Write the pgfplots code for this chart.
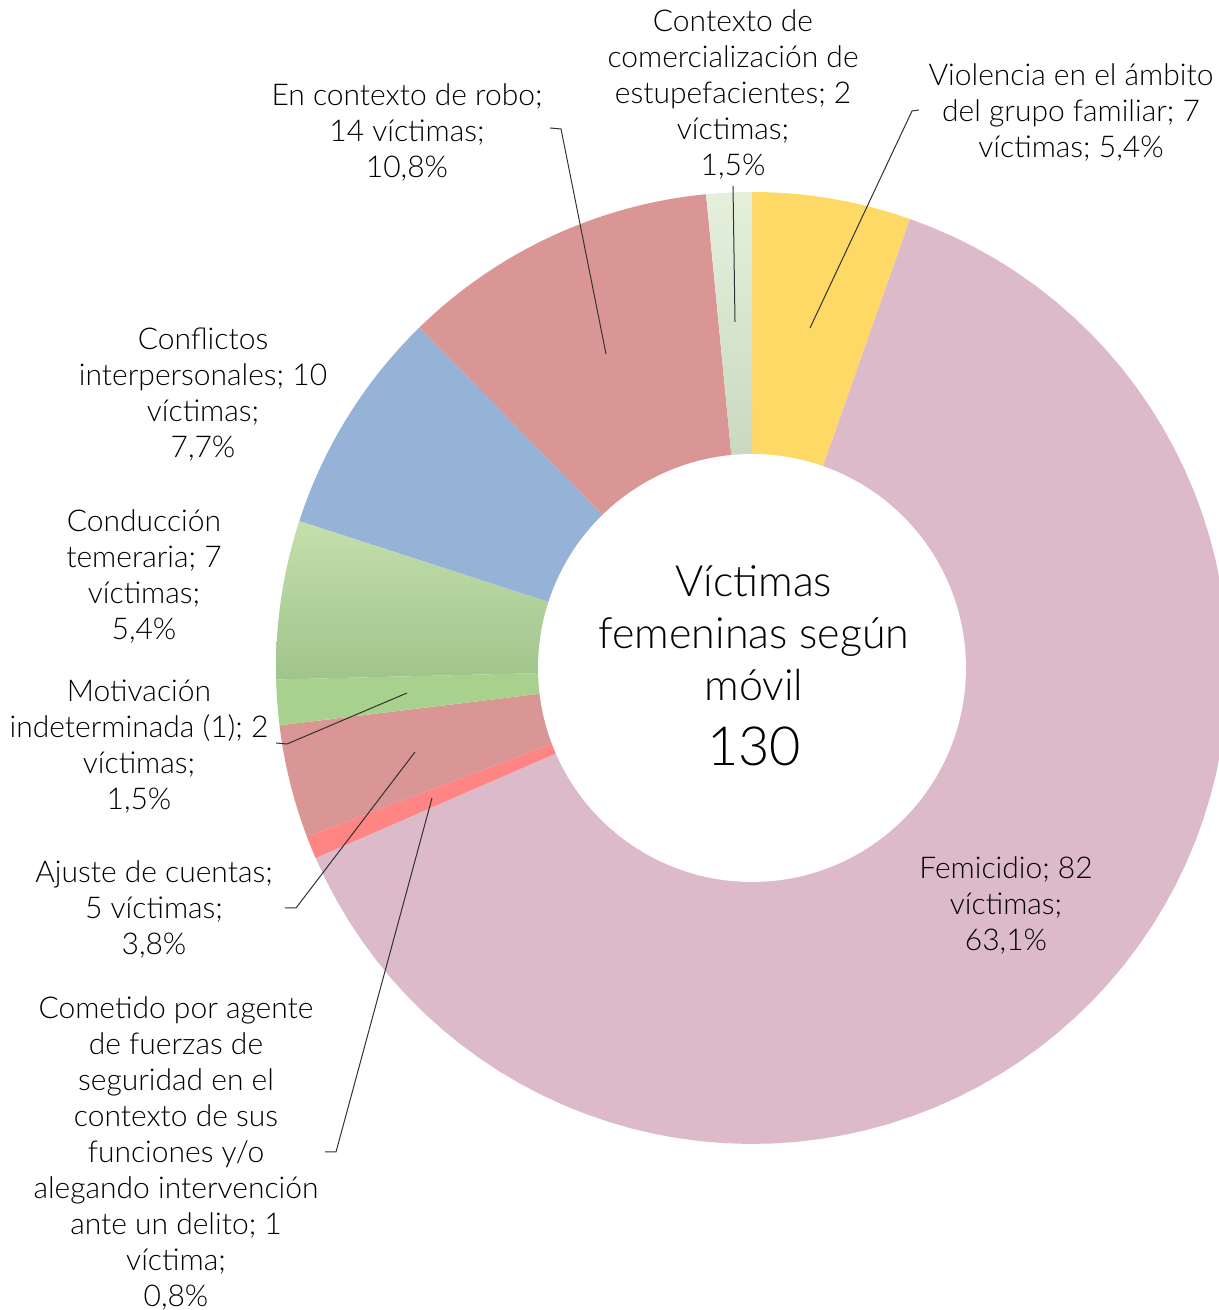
\documentclass[border=0pt]{standalone}
\usepackage{pgfplots}
\pgfplotsset{compat=1.18}
\usepackage{fontspec}
\setmainfont{Lato Light}
\definecolor{cyel}{RGB}{255,217,102}
\definecolor{cpink}{RGB}{220,186,202}
\definecolor{cred}{RGB}{255,133,133}
\definecolor{crose}{RGB}{217,150,148}
\definecolor{cgreen}{RGB}{169,209,142}
\definecolor{cgtop}{RGB}{196,223,172}
\definecolor{cgbot}{RGB}{160,196,140}
\definecolor{cblue}{RGB}{149,179,215}
\definecolor{cltop}{RGB}{228,240,220}
\definecolor{clbot}{RGB}{180,200,170}
\definecolor{cline}{RGB}{50,50,50}
% wedge between cumulative counts #1 and #2 (total 130), clockwise from 12 o'clock
\newcommand{\donutwedge}[3]{%
  \addplot[#3, draw=none, domain={90-360*#2/130}:{90-360*#1/130}, samples=80, variable=\t]
    ({752+476*cos(\t)},{-668+476*sin(\t)}) -- (axis cs:752,-668) -- cycle;}
\newcommand{\lab}{\fontsize{15}{18}\selectfont}
\begin{document}
\begin{tikzpicture}
\begin{axis}[x=0.5pt, y=0.5pt, xmin=0, xmax=1219, ymin=-1310, ymax=0,
  hide axis, scale only axis, clip=true]
% cumulative victim counts: 7, 82, 1, 5, 2, 7, 10, 14, 2
\donutwedge{0}{7}{fill=cyel}
\donutwedge{7}{89}{fill=cpink}
\donutwedge{89}{90}{fill=cred}
\donutwedge{90}{95}{fill=crose}
\donutwedge{95}{97}{fill=cgreen}
\donutwedge{97}{104}{top color=cgtop, bottom color=cgbot}
\donutwedge{104}{114}{fill=cblue}
\donutwedge{114}{128}{fill=crose}
\donutwedge{128}{130}{top color=cltop, bottom color=clbot}
\addplot[fill=white, draw=none, domain=0:360, samples=160]
  ({752+214*cos(x)},{-668+214*sin(x)}) -- cycle;
% leader lines
\addplot[cline, line width=0.5pt] coordinates {(550,-128) (561,-129) (606,-354)};
\addplot[cline, line width=0.5pt] coordinates {(733,-186) (735,-322)};
\addplot[cline, line width=0.5pt] coordinates {(919,-110) (912,-111) (810,-328)};
\addplot[cline, line width=0.5pt] coordinates {(276,-743) (287,-744) (407,-693)};
\addplot[cline, line width=0.5pt] coordinates {(285,-908) (296,-908) (415,-752)};
\addplot[cline, line width=0.5pt] coordinates {(325,-1152) (336,-1152) (432,-798)};
% labels
\node[align=center, inner sep=0pt, font=\lab] at (axis cs:407,-133) {En contexto de robo;\\14 víctimas;\\10,8\%};
\node[align=center, inner sep=0pt, font=\lab] at (axis cs:733,-95) {Contexto de\\comercialización de\\estupefacientes; 2\\víctimas;\\1,5\%};
\node[align=center, inner sep=0pt, font=\lab] at (axis cs:1071,-113) {Violencia en el ámbito\\del grupo familiar; 7\\víctimas; 5,4\%};
\node[align=center, inner sep=0pt, font=\lab] at (axis cs:203,-395) {Conflictos\\interpersonales; 10\\víctimas;\\7,7\%};
\node[align=center, inner sep=0pt, font=\lab] at (axis cs:144,-576) {Conducción\\temeraria; 7\\víctimas;\\5,4\%};
\node[align=center, inner sep=0pt, font=\lab] at (axis cs:139,-747) {Motivación\\indeterminada (1); 2\\víctimas;\\1,5\%};
\node[align=center, inner sep=0pt, font=\lab] at (axis cs:154,-909) {Ajuste de cuentas;\\5 víctimas;\\3,8\%};
\node[align=center, inner sep=0pt, font=\lab] at (axis cs:176,-1153) {Cometido por agente\\de fuerzas de\\seguridad en el\\contexto de sus\\funciones y/o\\alegando intervención\\ante un delito; 1\\víctima;\\0,8\%};
\node[align=center, inner sep=0pt, font=\lab] at (axis cs:1006,-905) {Femicidio; 82\\víctimas;\\63,1\%};
\node[align=center, inner sep=0pt, font=\fontsize{21.5}{26}\selectfont] at (axis cs:754,-633) {Víctimas\\femeninas según\\móvil};
\node[inner sep=0pt, font=\fontsize{27}{30}\selectfont] at (axis cs:754,-746) {130};
\end{axis}
\pgfresetboundingbox
\path (current axis.south west) rectangle (current axis.north east);
\end{tikzpicture}
\end{document}
